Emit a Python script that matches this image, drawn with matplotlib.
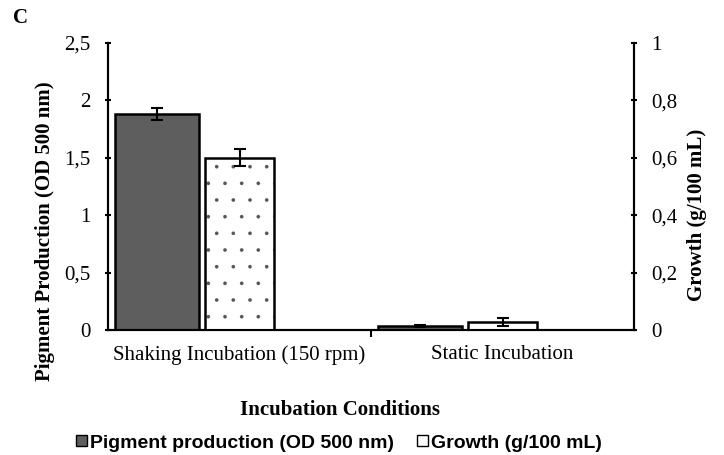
import matplotlib.pyplot as plt
from matplotlib.patches import Patch
import numpy as np

# data
conditions = ["Shaking Incubation (150 rpm)", "Static Incubation"]
pigment = [1.88, 0.035]        # OD 500 nm
pigment_err = [0.05, 0.005]
growth = [0.60, 0.027]         # g/100 mL
growth_err = [0.03, 0.014]

left_ticks = [0, 0.5, 1, 1.5, 2, 2.5]
left_labels = ["0", "0,5", "1", "1,5", "2", "2,5"]
right_ticks = [0, 0.2, 0.4, 0.6, 0.8, 1]
right_labels = ["0", "0,2", "0,4", "0,6", "0,8", "1"]

serif = "Liberation Serif"
sans = "Liberation Sans"

plt.rcParams["hatch.linewidth"] = 0.2

fig = plt.figure(figsize=(7.24, 4.55), dpi=100)
ax = fig.add_axes([108 / 724, 1 - 330 / 455, 526 / 724, 287 / 455])
ax2 = ax.twinx()

x = np.arange(len(conditions))

# pigment bars (dark, left axis)
ax.bar(x - 0.475, pigment, width=0.32, align="edge", color="#5e5e5e",
       edgecolor="black", linewidth=1.8, zorder=2)
ax.errorbar(x - 0.315, pigment, yerr=pigment_err, fmt="none", ecolor="black",
            elinewidth=1.5, capsize=4, capthick=1.5, zorder=3)

# growth bars (dotted, right axis)
ax2.bar(x - 0.133, growth, width=0.266, align="edge", color="white",
        edgecolor="#555555", linewidth=0, hatch=".", zorder=2)
ax2.bar(x - 0.133, growth, width=0.266, align="edge", fill=False,
        edgecolor="black", linewidth=1.8, zorder=3)
ax2.errorbar(x, growth, yerr=growth_err, fmt="none", ecolor="black",
             elinewidth=1.5, capsize=4, capthick=1.5, zorder=4)

ax.set_xlim(-0.5, 1.5)
ax.set_ylim(0, 2.5)
ax2.set_ylim(0, 1)

ax.set_yticks(left_ticks)
ax.set_yticklabels(left_labels, fontfamily=serif, fontsize=15)
ax2.set_yticks(right_ticks)
ax2.set_yticklabels(right_labels, fontfamily=serif, fontsize=15)

ax.set_xticks(x)
ax.set_xticklabels(conditions, fontfamily=serif, fontsize=15)
ax.tick_params(axis="x", length=0, pad=11)
ax.set_xticks([0.5], minor=True)
ax.tick_params(axis="x", which="minor", length=5, width=1.5, direction="out")
ax.tick_params(axis="y", length=5, width=1.5, direction="inout", pad=10)
ax2.tick_params(axis="y", length=5, width=1.5, direction="inout", pad=10)

for a in (ax, ax2):
    a.spines["top"].set_visible(False)
    for s in ("left", "right", "bottom"):
        a.spines[s].set_linewidth(1.5)
        a.spines[s].set_color("black")

fig.text(13 / 724, 1 - 18 / 455, "C", fontfamily=serif, fontweight="bold",
         fontsize=15, va="center", ha="left")
fig.text(45 / 724, 1 - 231 / 455, "Pigment Production (OD 500 nm)",
         rotation=90, fontfamily=serif, fontweight="bold", fontsize=15,
         va="center", ha="center")
fig.text(697 / 724, 1 - 215 / 455, "Growth (g/100 mL)",
         rotation=90, fontfamily=serif, fontweight="bold", fontsize=15,
         va="center", ha="center")
fig.text(340 / 724, 1 - 410 / 455, "Incubation Conditions",
         fontfamily=serif, fontweight="bold", fontsize=15,
         va="center", ha="center")

handles = [Patch(facecolor="#5e5e5e", edgecolor="black", linewidth=1),
           Patch(facecolor="white", edgecolor="black", linewidth=1)]
fig.legend(handles, ["Pigment production (OD 500 nm)", "Growth (g/100 mL)"],
           loc="center", bbox_to_anchor=(339 / 724, 1 - 443 / 455), ncol=2,
           frameon=False, handlelength=0.55, handleheight=0.55,
           handletextpad=0.15, columnspacing=1.2,
           prop={"family": sans, "weight": "bold", "size": 14})

fig.savefig("out.png", dpi=100)
